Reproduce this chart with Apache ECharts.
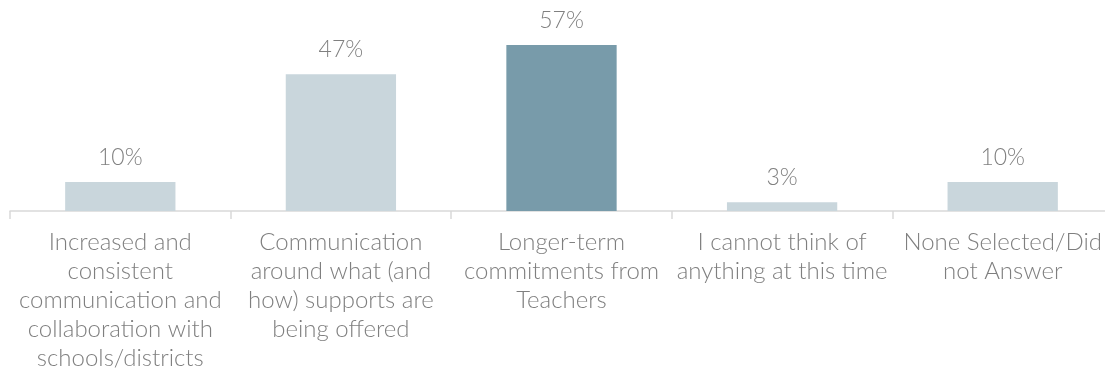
<!DOCTYPE html>
<html>
<head>
<meta charset="utf-8">
<script src="https://cdn.jsdelivr.net/npm/echarts@6/dist/echarts.min.js"></script>
<style>html,body{margin:0;padding:0;background:#fff}#c{width:1105px;height:370px}</style>
</head>
<body>
<div id="c"></div>
<script>
const categories = [
  "Increased and\nconsistent\ncommunication and\ncollaboration with\nschools/districts",
  "Communication\naround what (and\nhow) supports are\nbeing offered",
  "Longer-term\ncommitments from\nTeachers",
  "I cannot think of\nanything at this time",
  "None Selected/Did\nnot Answer"
];
const values = [10, 47, 57, 3, 10];
const highlightIndex = 2;

const chart = echarts.init(document.getElementById('c'), null, {renderer: 'canvas'});
chart.setOption({
  animation: false,
  grid: {left: 10, width: 1103, top: 36.3, bottom: 159, containLabel: false, outerBoundsMode: 'none'},
  xAxis: {
    type: 'category',
    data: categories,
    axisLine: {lineStyle: {color: '#d9d9d9', width: 1.5}},
    axisTick: {show: true, length: 8, lineStyle: {color: '#d9d9d9', width: 1.5}},
    axisLabel: {
      interval: 0,
      margin: 17,
      fontFamily: 'Lato',
      fontWeight: 300,
      fontSize: 24,
      lineHeight: 29,
      color: '#7f7f7f'
    }
  },
  yAxis: {type: 'value', min: 0, max: 60, show: false, splitLine: {show: false}},
  series: [{
    type: 'bar',
    barWidth: '50%',
    data: values.map((v, i) => ({
      value: v,
      itemStyle: {color: i === highlightIndex ? '#789BAA' : '#C9D6DC'}
    })),
    label: {
      show: true,
      position: 'top',
      distance: 13,
      formatter: '{c}%',
      fontFamily: 'Lato',
      fontWeight: 300,
      fontSize: 23,
      color: '#808080'
    }
  }]
});
</script>
</body>
</html>
